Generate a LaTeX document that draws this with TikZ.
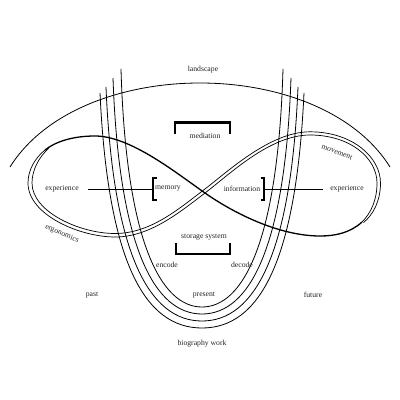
\documentclass[tikz,border=0pt]{standalone}
\usepackage{fontspec}
\setmainfont{Liberation Serif}
\begin{document}
\begin{tikzpicture}[x=1pt,y=-1pt,
  lbl/.style={font=\fontsize{7.7}{9}\selectfont, text=black!85, inner sep=0pt},
  ucurve/.style={line width=0.8pt},
  thineight/.style={line width=0.7pt},
  thickeight/.style={line width=1.3pt},
  brk/.style={line width=1.2pt},
  bar/.style={line width=2.6pt},
  conn/.style={line width=0.8pt}]
\useasboundingbox (0,0) rectangle (400,400);

% landscape arc
\draw[conn] (10,167) .. controls (80,55) and (320,55) .. (390,167);

% nested U curves
\foreach \xl/\yt/\yb/\ca/\cb in {100/93/328/8/45, 106/87/321/7/44, 113/78/314/6/42, 121/69/307/5/40} {
  \draw[ucurve] (\xl,\yt) .. controls (\xl+\ca,\yb-65) and (\xl+\cb,\yb) .. (202,\yb)
     .. controls (404-\xl-\cb,\yb) and (404-\xl-\ca,\yb-65) .. (404-\xl,\yt);
}

% figure eight: thick single stroke
\draw[thickeight] (362,222) .. controls (350,233) and (335,236) .. (320,236)
   .. controls (280,236) and (235,214) .. (205,193)
   .. controls (175,172) and (130,136) .. (95,136)
   .. controls (72,136) and (55,142) .. (45,150);
% figure eight: thin continuation
\draw[thineight] (45,150) .. controls (35,158) and (28,170) .. (28,183)
   .. controls (28,215) and (80,237) .. (115,237)
   .. controls (150,237) and (180,212) .. (205,193)
   .. controls (230,174) and (270,135) .. (310,135)
   .. controls (350,135) and (377,158) .. (377,183)
   .. controls (377,200) and (371,213) .. (362,222);
% figure eight: parallel second line
\draw[thineight] (49,148) .. controls (39,157) and (32,170) .. (32,183)
   .. controls (32,212) and (80,233.5) .. (115,233.5)
   .. controls (150,233.5) and (178,209.5) .. (203,190.5)
   .. controls (228,171.5) and (270,131.8) .. (310,131.8)
   .. controls (352,131.8) and (380.5,157) .. (380.5,183)
   .. controls (380.5,201) and (373,215) .. (363.5,222.5);

% labels
\node[lbl] (landscape) at (203,70) {landscape};
\node[lbl] (mediation) at (205,136) {mediation};
\node[lbl] (memory) at (168,189) {memory};
\node[lbl] (information) at (242,189) {information};
\node[lbl] (expL) at (62,189) {experience};
\node[lbl] (expR) at (347,189) {experience};
\node[lbl, rotate=-21] (movement) at (337,152) {movement};
\node[lbl, rotate=-23] (ergonomics) at (62,234) {ergonomics};
\node[lbl] (storage) at (204,237) {storage system};
\node[lbl] (encode) at (167,265) {encode};
\node[lbl] (decode) at (242,265) {decode};
\node[lbl] (past) at (92,295) {past};
\node[lbl] (present) at (204,295) {present};
\node[lbl] (future) at (313,295) {future};
\node[lbl] (bio) at (202,344) {biography work};

% mediation bracket
\draw[bar] (174.4,122.5) -- (230.6,122.5);
\draw[brk] (175,122) -- (175,134);
\draw[brk] (230,122) -- (230,134);
% storage bracket
\draw[bar] (175.4,254) -- (230.6,254);
\draw[brk] (176,243) -- (176,254.5);
\draw[brk] (230,243) -- (230,254.5);

% memory / information brackets
\draw[brk] (156.5,178) -- (153,178) -- (153,200) -- (156.5,200);
\coordinate (mb) at (153,189);
\draw[brk] (260.5,178) -- (264,178) -- (264,200) -- (260.5,200);
\coordinate (ib) at (264,189);

% connectors
\draw[conn] ([xshift=9pt]expL.east) -- (mb);
\draw[conn] (ib) -- ([xshift=-7pt]expR.west);
\end{tikzpicture}
\end{document}
